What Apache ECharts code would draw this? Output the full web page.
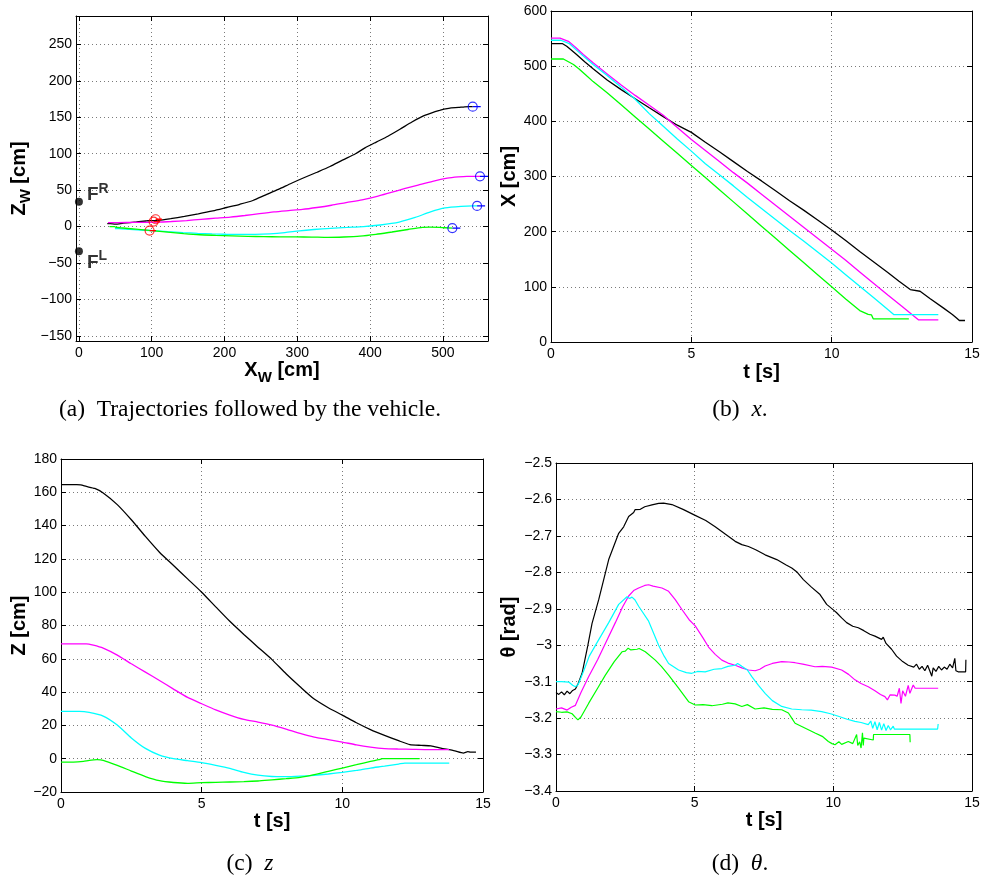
<!DOCTYPE html>
<html><head><meta charset="utf-8">
<script src="https://cdn.jsdelivr.net/npm/echarts@6/dist/echarts.min.js"></script>
<style>html,body{margin:0;padding:0;background:#fff}#c{width:983px;height:876px}</style>
</head><body><div id="c"></div>
<script>
// ---------------- DATA ----------------
// tick labels
const tTicks = [0, 5, 10, 15];
const xwTicks = [0, 100, 200, 300, 400, 500];
const zwTicks = [-150, -100, -50, 0, 50, 100, 150, 200, 250];
const xTicks = [0, 100, 200, 300, 400, 500, 600];
const zTicks = [-20, 0, 20, 40, 60, 80, 100, 120, 140, 160, 180];
const thTicks = [-3.4, -3.3, -3.2, -3.1, -3, -2.9, -2.8, -2.7, -2.6, -2.5];

// black run: time [s], X [cm], Z [cm]
const tBlack = [0, 0.4, 0.56, 0.7, 0.9, 1.2, 1.5, 2, 2.5, 3, 3.5, 4, 4.5, 5, 5.5, 6, 6.5, 7, 7.5, 8, 8.5, 9, 9.5, 10, 10.5, 11, 11.5, 12, 12.4, 12.8, 13.15, 13.5, 14, 14.3, 14.46, 14.55, 14.75];
const xBlack = [541, 541, 536, 530, 521.5, 508, 495.5, 475, 457.5, 441, 424.5, 408.5, 393, 380, 362, 345, 327, 309, 292, 274, 256, 239, 221, 203, 184, 164, 145, 126, 110, 95, 92, 79, 61, 50, 43, 39, 39];
const zBlack = [164.6, 164.6, 164.6, 164.4, 163.5, 162.3, 159.6, 152.6, 143.5, 133.5, 124, 116, 108, 100, 91.2, 82.5, 74.6, 67, 59.5, 51, 43.2, 35.8, 30.6, 26.2, 21.6, 17.5, 14, 10.8, 8.5, 8, 7.7, 6.4, 4.7, 3.4, 4.2, 4.0, 4.0];

// magenta run
const tMag = [0, 0.32, 0.62, 0.9, 1.15, 1.5, 2, 2.5, 3, 3.5, 4, 4.5, 5, 5.5, 6, 6.5, 7, 7.5, 8, 8.5, 9, 9.5, 10, 10.5, 11, 11.5, 12, 12.5, 13.1, 13.8];
const xMag = [551, 551, 545, 533, 521, 506, 486, 466, 447, 429, 411, 389, 367, 347, 327, 307, 288, 268, 248, 228, 208, 188, 168, 148, 127, 106, 85, 65, 40, 40];
const zMag = [69, 69, 69, 69, 68.2, 66.4, 62.2, 57, 52, 47, 41.8, 36.8, 33, 29.3, 26.2, 23.6, 22, 20.2, 17.8, 15.2, 13, 11.5, 10, 8.3, 7, 6.1, 5.8, 5.6, 5.4, 5.4];

// cyan run
const tCyan = [0, 0.35, 0.65, 1, 1.5, 2, 2.5, 3, 3.5, 4, 4.5, 5, 5.5, 6, 6.5, 7, 7.5, 8, 8.5, 9, 9.5, 10, 10.5, 11, 11.5, 12, 12.22, 13.8];
const xCyan = [547, 547, 541, 525, 503, 483, 462, 440, 414, 391, 368, 346, 323, 303, 283, 262, 242, 222, 202, 183, 163, 143, 122, 101, 80, 59, 49.5, 49.5];
const zCyan = [28.4, 28.4, 28.4, 27.8, 25.6, 20.2, 12.5, 6.2, 2.2, 0, -1.2, -2.4, -4, -5.8, -8.2, -9.9, -10.7, -10.8, -10.5, -10, -9.2, -8.2, -7, -5.6, -4.5, -3.2, -2.6, -2.6];

// green run
const tGreen = [0, 0.44, 0.8, 1, 1.28, 1.5, 2, 2.5, 3, 3.5, 4, 4.5, 5, 5.5, 6, 6.5, 7, 7.5, 8, 8.5, 9, 9.5, 10, 10.5, 11, 11.3, 11.42, 11.48, 12.75];
const xGreen = [513, 513, 503, 495, 482, 472, 452, 430, 408, 386, 364, 342, 320, 298, 276, 254, 232, 210, 188, 166, 144, 122, 100, 78, 57, 50, 49, 42, 42];
const zGreen = [-2, -2, -1.6, -1, -0.6, -1, -4, -7.4, -10.7, -13.2, -14.3, -14.8, -14.4, -14.2, -14, -13.8, -13.4, -12.7, -12, -11.2, -9.6, -7.6, -5.6, -3.6, -1.6, -0.6, 0, 0, 0];

// orientation theta [rad] as [t, theta]
const thBlack = [[0,-3.13],[0.1,-3.135],[0.2,-3.128],[0.3,-3.136],[0.4,-3.126],[0.5,-3.133],[0.6,-3.124],[0.7,-3.12],[0.8,-3.105],[0.94,-3.077],[1.15,-3.0],[1.3,-2.94],[1.54,-2.875],[1.9,-2.765],[2.26,-2.693],[2.44,-2.675],[2.62,-2.647],[2.8,-2.636],[2.85,-2.628],[2.9,-2.632],[3.04,-2.627],[3.2,-2.62],[3.46,-2.615],[3.7,-2.611],[3.88,-2.61],[4.18,-2.614],[4.6,-2.628],[5.0,-2.643],[5.4,-2.658],[5.74,-2.675],[6.1,-2.695],[6.46,-2.715],[6.7,-2.724],[6.94,-2.729],[7.2,-2.738],[7.54,-2.752],[7.96,-2.765],[8.3,-2.78],[8.5,-2.788],[8.7,-2.8],[8.92,-2.82],[9.2,-2.84],[9.52,-2.861],[9.76,-2.888],[10.0,-2.903],[10.12,-2.911],[10.3,-2.925],[10.48,-2.938],[10.7,-2.948],[10.9,-2.952],[11.1,-2.96],[11.32,-2.97],[11.5,-2.975],[11.74,-2.984],[11.8,-2.978],[11.9,-2.995],[12.1,-3.011],[12.28,-3.03],[12.5,-3.045],[12.7,-3.055],[12.9,-3.06],[13.0,-3.052],[13.1,-3.066],[13.2,-3.058],[13.3,-3.07],[13.4,-3.055],[13.5,-3.075],[13.55,-3.085],[13.6,-3.062],[13.7,-3.072],[13.8,-3.058],[13.9,-3.068],[14.0,-3.06],[14.1,-3.066],[14.2,-3.052],[14.3,-3.062],[14.38,-3.036],[14.42,-3.07],[14.5,-3.073],[14.77,-3.073],[14.78,-3.04]];
const thMag = [[0,-3.175],[0.2,-3.172],[0.4,-3.178],[0.55,-3.17],[0.7,-3.165],[0.9,-3.13],[1.18,-3.086],[1.5,-3.04],[1.78,-2.995],[2.14,-2.938],[2.4,-2.895],[2.62,-2.865],[2.8,-2.85],[2.98,-2.843],[3.2,-2.836],[3.34,-2.834],[3.5,-2.838],[3.82,-2.843],[4.06,-2.852],[4.3,-2.875],[4.54,-2.902],[4.8,-2.93],[5.02,-2.947],[5.3,-2.98],[5.5,-3.005],[5.74,-3.025],[5.98,-3.041],[6.2,-3.049],[6.46,-3.055],[6.7,-3.062],[6.94,-3.068],[7.18,-3.07],[7.35,-3.066],[7.54,-3.057],[7.8,-3.05],[8.14,-3.045],[8.4,-3.046],[8.62,-3.048],[8.9,-3.052],[9.34,-3.059],[9.6,-3.058],[9.94,-3.06],[10.3,-3.068],[10.55,-3.08],[10.78,-3.095],[11.0,-3.105],[11.26,-3.114],[11.5,-3.125],[11.7,-3.135],[11.86,-3.141],[11.95,-3.15],[12.05,-3.136],[12.22,-3.137],[12.3,-3.14],[12.38,-3.118],[12.44,-3.16],[12.5,-3.125],[12.6,-3.14],[12.7,-3.11],[12.76,-3.132],[12.88,-3.109],[12.95,-3.118],[13.78,-3.118]];
const thCyan = [[0,-3.1],[0.2,-3.1],[0.46,-3.101],[0.6,-3.11],[0.7,-3.114],[0.8,-3.108],[1.0,-3.07],[1.2,-3.03],[1.5,-2.99],[1.9,-2.938],[2.26,-2.888],[2.56,-2.867],[2.65,-2.872],[2.74,-2.868],[2.85,-2.876],[2.98,-2.893],[3.34,-2.934],[3.7,-3.0],[3.9,-3.03],[4.06,-3.05],[4.42,-3.068],[4.7,-3.075],[4.9,-3.077],[5.1,-3.072],[5.38,-3.073],[5.7,-3.066],[5.98,-3.064],[6.2,-3.058],[6.46,-3.055],[6.55,-3.05],[6.7,-3.058],[6.9,-3.068],[7.06,-3.086],[7.3,-3.11],[7.54,-3.132],[7.8,-3.152],[8.14,-3.168],[8.5,-3.175],[8.86,-3.177],[9.2,-3.178],[9.58,-3.182],[9.9,-3.188],[10.18,-3.195],[10.5,-3.203],[10.78,-3.209],[11.0,-3.212],[11.26,-3.218],[11.35,-3.208],[11.42,-3.228],[11.5,-3.21],[11.58,-3.232],[11.66,-3.212],[11.74,-3.233],[11.82,-3.215],[11.9,-3.234],[11.98,-3.22],[12.06,-3.232],[12.16,-3.222],[12.2,-3.23],[13.76,-3.23],[13.78,-3.216]];
const thGreen = [[0,-3.182],[0.2,-3.184],[0.4,-3.183],[0.58,-3.188],[0.7,-3.198],[0.79,-3.205],[0.9,-3.197],[1.18,-3.159],[1.5,-3.118],[1.78,-3.082],[2.1,-3.045],[2.38,-3.018],[2.5,-3.016],[2.6,-3.008],[2.7,-3.013],[2.92,-3.011],[3.0,-3.009],[3.22,-3.018],[3.58,-3.041],[3.8,-3.058],[4.06,-3.082],[4.42,-3.118],[4.78,-3.155],[5.02,-3.164],[5.3,-3.163],[5.62,-3.166],[6.0,-3.162],[6.2,-3.158],[6.46,-3.161],[6.7,-3.168],[6.9,-3.163],[7.18,-3.175],[7.5,-3.172],[7.8,-3.176],[8.14,-3.177],[8.38,-3.186],[8.5,-3.2],[8.62,-3.214],[8.86,-3.223],[9.1,-3.232],[9.34,-3.241],[9.6,-3.25],[9.82,-3.264],[9.95,-3.27],[10.06,-3.273],[10.2,-3.265],[10.3,-3.272],[10.54,-3.264],[10.7,-3.27],[10.84,-3.245],[10.88,-3.275],[10.95,-3.265],[11.0,-3.282],[11.05,-3.24],[11.08,-3.275],[11.1,-3.255],[11.15,-3.26],[11.44,-3.26],[11.45,-3.245],[12.76,-3.245],[12.77,-3.266]];

// trajectory plot extras
const redMarkX = [105.4, 102.6, 97.1];
const redMarkZ = [10.1, 6.9, -5.5];
const headingLen = 11;
const featX = [0, 0];
const featZ = [34, -34];
const featSup = ['R', 'L'];

// ---------------- CHART ----------------
const FONT = '"Liberation Sans", Arial, Helvetica, sans-serif';
const SERIF = '"Liberation Serif", "Times New Roman", serif';
const BLACK = '#000000', MAG = '#ff00ff', CYAN = '#00ffff', GREEN = '#00ff00';
const minus = v => String(v).replace('-', '\u2212');
const zip = (a, b) => a.map((v, i) => [v, b[i]]);

const RICH = {
  m: {fontFamily: FONT, fontWeight: 'bold', fontSize: 20, color: '#000', lineHeight: 28},
  s: {fontFamily: FONT, fontWeight: 'bold', fontSize: 15, color: '#000', lineHeight: 12, verticalAlign: 'bottom'}
};

const panels = [
  {box: {left: 76, top: 16, width: 412, height: 325}, xr: [-4, 562], yr: [-157, 289], xt: xwTicks, yt: zwTicks,
   xname: '{m|X}{s|W}{m| [cm]}', xgap: 12, yname: '{m|Z}{s|W}{m| [cm]}', ygap: 43},
  {box: {left: 551, top: 11, width: 421, height: 331}, xr: [0, 15], yr: [0, 600], xt: tTicks, yt: xTicks,
   xname: '{m|t [s]}', xgap: 16, yname: '{m|X [cm]}', ygap: 28},
  {box: {left: 61, top: 459, width: 422, height: 333}, xr: [0, 15], yr: [-20, 180], xt: tTicks, yt: zTicks,
   xname: '{m|t [s]}', xgap: 15, yname: '{m|Z [cm]}', ygap: 28},
  {box: {left: 556, top: 463, width: 416, height: 328}, xr: [0, 15], yr: [-3.4, -2.5], xt: tTicks, yt: thTicks,
   xname: '{m|t [s]}', xgap: 15, yname: '{m|\u03b8 [rad]}', ygap: 33}
];

function axis(gridIndex, position, range, ticks, primary, name, nameGap, margin) {
  const a = {
    type: 'value', gridIndex, position, min: range[0], max: range[1], scale: true,
    axisLine: {show: true, onZero: false, lineStyle: {color: '#000', width: 1}},
    axisTick: {show: true, inside: true, length: 5, customValues: ticks, lineStyle: {color: '#000', width: 1}},
    axisLabel: {show: primary, customValues: ticks, formatter: minus, color: '#000',
                fontFamily: FONT, fontSize: 14, margin: margin},
    splitLine: {show: primary, lineStyle: {color: '#7a7a7a', width: 1, type: [1, 3]}},
    silent: true
  };
  if (primary) {
    a.name = name; a.nameLocation = 'middle'; a.nameGap = nameGap;
    a.nameTextStyle = {rich: RICH};
  }
  return a;
}

const grid = panels.map(p => Object.assign({containLabel: false, outerBoundsMode: 'none', show: false}, p.box));
const xAxis = [], yAxis = [];
panels.forEach((p, i) => xAxis.push(axis(i, 'bottom', p.xr, p.xt, true, p.xname, p.xgap, 5)));
panels.forEach((p, i) => xAxis.push(axis(i, 'top', p.xr, p.xt, false)));
panels.forEach((p, i) => yAxis.push(axis(i, 'left', p.yr, p.yt, true, p.yname, p.ygap, 4)));
panels.forEach((p, i) => yAxis.push(axis(i, 'right', p.yr, p.yt, false)));

const runs = [
  {t: tBlack, x: xBlack, z: zBlack, th: thBlack, c: BLACK},
  {t: tMag, x: xMag, z: zMag, th: thMag, c: MAG},
  {t: tCyan, x: xCyan, z: zCyan, th: thCyan, c: CYAN},
  {t: tGreen, x: xGreen, z: zGreen, th: thGreen, c: GREEN}
];

function lineSeries(gi, data, color, w, smooth) {
  return {type: 'line', xAxisIndex: gi, yAxisIndex: gi, data, showSymbol: false, symbol: 'none',
          smooth: smooth || false, lineStyle: {color, width: w || 1.3}, itemStyle: {color}, silent: true, z: 3};
}

const series = [];
runs.forEach(r => {
  series.push(lineSeries(0, zip(r.x, r.z), r.c, 1.3, 0.25));
  series.push(lineSeries(1, zip(r.t, r.x), r.c));
  series.push(lineSeries(2, zip(r.t, r.z), r.c, 1.3, 0.2));
  series.push(lineSeries(3, r.th, r.c, 1.2));
});

// start poses (blue) and red poses in trajectory plot
const startPts = runs.map(r => [r.x[0], r.z[0]]);
const redPts = zip(redMarkX, redMarkZ);
startPts.forEach(p => series.push(lineSeries(0, [p, [p[0] + headingLen, p[1]]], '#0000ff', 1.3)));
redPts.forEach(p => series.push(lineSeries(0, [p, [p[0] + headingLen * 0.8, p[1]]], '#ff0000', 1.3)));
series.push({type: 'scatter', xAxisIndex: 0, yAxisIndex: 0, data: startPts, symbol: 'circle', symbolSize: 9,
  itemStyle: {color: 'rgba(0,0,0,0)', borderColor: '#0000ff', borderWidth: 1.2}, silent: true, z: 5});
series.push({type: 'scatter', xAxisIndex: 0, yAxisIndex: 0, data: redPts, symbol: 'circle', symbolSize: 9,
  itemStyle: {color: 'rgba(0,0,0,0)', borderColor: '#ff0000', borderWidth: 1.2}, silent: true, z: 5});
// features
series.push({type: 'scatter', xAxisIndex: 0, yAxisIndex: 0, symbol: 'circle', symbolSize: 8,
  itemStyle: {color: '#000'}, silent: true, z: 6,
  data: featX.map((x, i) => ({value: [x, featZ[i]],
    label: {show: true, position: 'right', distance: 4, offset: [0, i === 0 ? -7 : 11],
      formatter: '{f|F}{p|' + featSup[i] + '}',
      rich: {f: {fontFamily: FONT, fontWeight: 'bold', fontSize: 19, color: '#000', lineHeight: 26},
             p: {fontFamily: FONT, fontWeight: 'bold', fontSize: 14, color: '#000', lineHeight: 8, verticalAlign: 'top'}}}}))
});

const capRich = {
  n: {fontFamily: SERIF, fontSize: 23.5, color: '#000'},
  i: {fontFamily: SERIF, fontSize: 23.5, fontStyle: 'italic', color: '#000'}
};
function caption(x, y, text) {
  return {type: 'text', x, y, silent: true,
    style: {text, rich: capRich, align: 'center', verticalAlign: 'middle',
            textAlign: 'center', textVerticalAlign: 'middle', fill: '#000', font: '23.5px ' + SERIF}};
}

const chart = echarts.init(document.getElementById('c'), null, {renderer: 'canvas'});
chart.setOption({
  animation: false,
  backgroundColor: '#fff',
  grid, xAxis, yAxis, series,
  graphic: [
    caption(250, 410, '{n|(a)  Trajectories followed by the vehicle.}'),
    caption(740, 410, '{n|(b)  }{i|x}{n|.}'),
    caption(250, 864, '{n|(c)  }{i|z}'),
    caption(740, 864, '{n|(d)  }{i|\u03b8}{n|.}')
  ]
});
</script></body></html>
